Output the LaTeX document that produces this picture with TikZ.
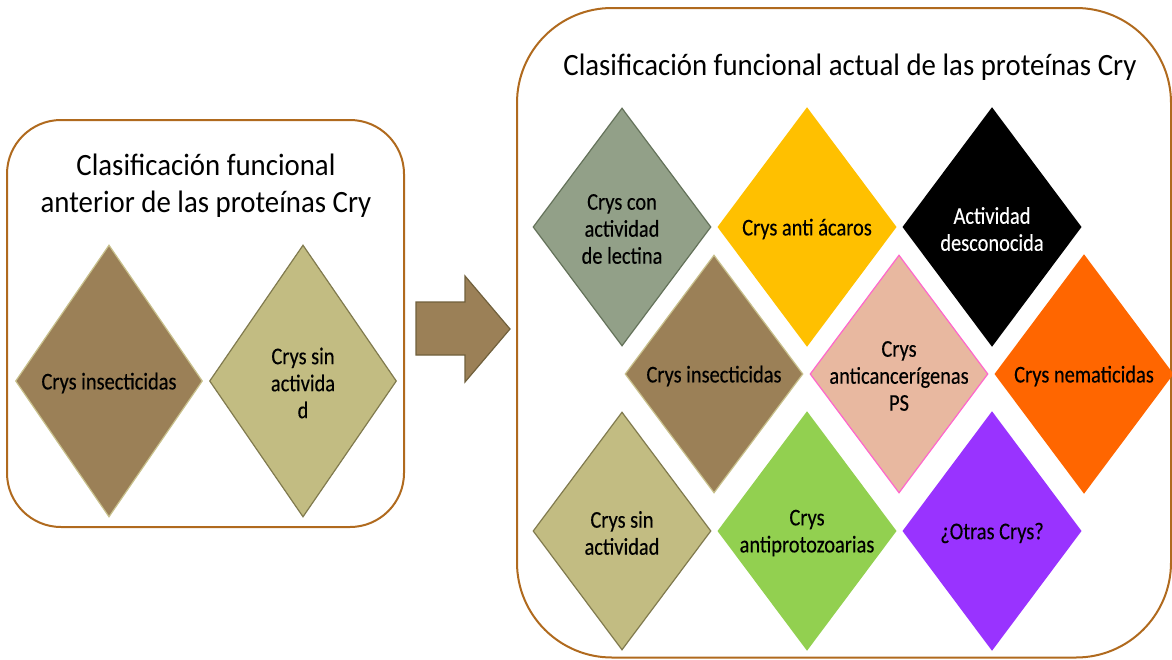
\documentclass[tikz,border=0pt]{standalone}
\usepackage{fontspec}
\setmainfont{Carlito}[FakeStretch=0.93]
\newfontfamily\dfont{Carlito}[FakeStretch=0.85,FakeBold=0.3]
\usetikzlibrary{shapes.geometric}
\definecolor{boxbrown}{RGB}{176,106,30}
\definecolor{insfill}{RGB}{155,128,87}
\definecolor{insline}{RGB}{200,192,140}
\definecolor{sinfill}{RGB}{194,188,130}
\definecolor{sinline}{RGB}{128,122,78}
\definecolor{lecfill}{RGB}{146,160,136}
\definecolor{lecline}{RGB}{100,114,90}
\definecolor{acafill}{RGB}{255,192,0}
\definecolor{canfill}{RGB}{232,184,160}
\definecolor{canline}{RGB}{255,102,204}
\definecolor{nemfill}{RGB}{255,102,0}
\definecolor{profill}{RGB}{146,208,80}
\definecolor{otrfill}{RGB}{153,51,255}
\definecolor{arrline}{RGB}{112,96,60}
\begin{document}
\begin{tikzpicture}[x=1pt,y=-1pt,
  frame/.style={draw=boxbrown, line width=2pt, rounded corners=#1},
  ttl/.style={font=\fontsize{31}{37}\selectfont, align=center, inner sep=0pt},
  diam/.style={diamond, inner sep=0pt, line width=1.2pt, minimum width=178pt, minimum height=238pt},
  ldiam/.style={diamond, inner sep=0pt, line width=1.2pt, minimum width=187pt, minimum height=272pt},
  dtext/.style={font=\dfont\fontsize{24}{27}\selectfont, align=center, inner sep=0pt, yshift=-2pt},
]
\useasboundingbox (0,0) rectangle (1172,659);
% frames
\draw[frame=54pt] (7,120) rectangle (404,527);
\draw[frame=95pt] (517,8) rectangle (1171,657.5);
% titles
\node[ttl] (tleft) at (206,186) {Clasificación funcional\\anterior de las proteínas Cry};
\node[ttl] (tright) at (850,67) {Clasificación funcional actual de las proteínas Cry};
% left diamonds
\node[ldiam, fill=insfill, draw=insline, label={[dtext]center:Crys insecticidas}] (li) at (109,381) {};
\node[ldiam, fill=sinfill, draw=sinline, label={[dtext]center:Crys sin\\activida\\d}] (ls) at (303,381) {};
% arrow
\draw[fill=insfill, draw=arrline, line width=1.2pt] (416,302) -- (465,302) -- (465,276) -- (510,329) -- (465,382) -- (465,355) -- (416,355) -- cycle;
% right diamonds row 1
\node[diam, fill=lecfill, draw=lecline, label={[dtext]center:Crys con\\actividad\\de lectina}] (r1) at (622,227) {};
\node[diam, fill=acafill, draw=acafill, label={[dtext]center:Crys anti ácaros}] (r2) at (807,227) {};
\node[diam, fill=black, draw=black, label={[dtext, text=white]center:Actividad\\desconocida}] (r3) at (992,227) {};
% row 2
\node[diam, fill=insfill, draw=insline, label={[dtext]center:Crys insecticidas}] (r4) at (714,374) {};
\node[diam, fill=canfill, draw=canline, label={[dtext]center:Crys\\anticancerígenas\\PS}] (r5) at (899,374) {};
\node[diam, fill=nemfill, draw=nemfill, label={[dtext]center:Crys nematicidas}] (r6) at (1084,374) {};
% row 3
\node[diam, fill=sinfill, draw=sinline, label={[dtext]center:Crys sin\\actividad}] (r7) at (622,531) {};
\node[diam, fill=profill, draw=profill, label={[dtext]center:Crys\\antiprotozoarias}] (r8) at (807,531) {};
\node[diam, fill=otrfill, draw=otrfill, label={[dtext]center:¿Otras Crys?}] (r9) at (992,531) {};
\end{tikzpicture}
\end{document}
